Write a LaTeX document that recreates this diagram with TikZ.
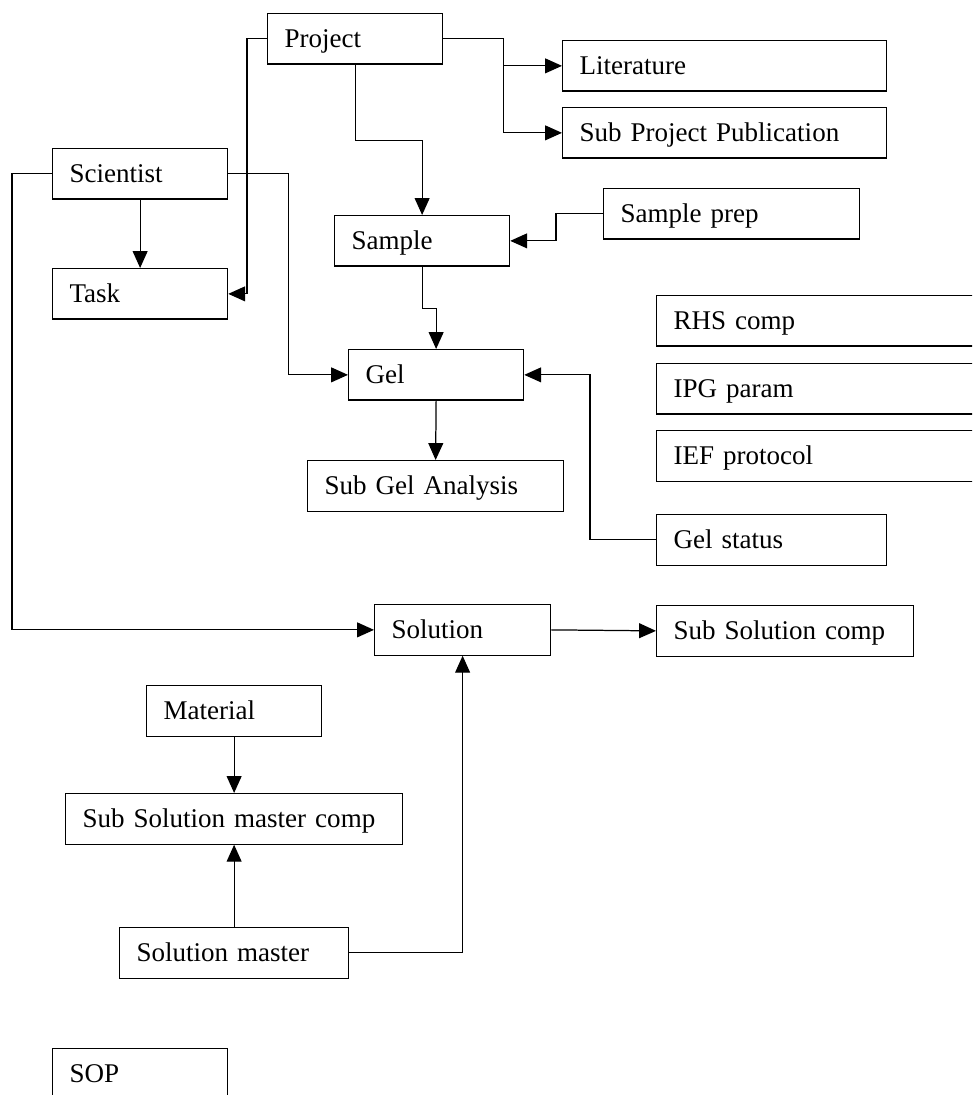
\documentclass[tikz,border=0pt]{standalone}
\usepackage{fontspec}
\setmainfont{Liberation Serif}
\usepackage{tikz}
\usetikzlibrary{arrows.meta,calc}

\begin{document}
\begin{tikzpicture}[x=0.444pt, y=-0.444pt,
    ent/.style={
        draw,
        line width=0.55pt,
        anchor=north west,
        minimum height=50.5*0.444pt,
        inner xsep=7.5pt,
        inner ysep=0pt,
        text height=0.74em,
        text depth=0pt,
        align=left,
        font=\fontsize{12}{14}\selectfont
    },
    boxw/.style={
        minimum width=#1*0.444pt,
        text width=#1*0.444pt-15pt
    },
    link/.style={
        ->,
        >={Triangle[length=7.5pt,width=6.6pt]},
        line width=0.55pt
    }
]

\useasboundingbox (0,0) rectangle (972,1095);
\clip (0,0) rectangle (972,1095);

\node[ent, boxw=175] (project) at (267,13) {Project};
\node[ent, boxw=324] (lit) at (562,40) {Literature};
\node[ent, boxw=324] (pub) at (562,107) {Sub Project Publication};
\node[ent, boxw=175] (sci) at (52,148) {Scientist};
\node[ent, boxw=256] (sprep) at (603,188) {Sample prep};
\node[ent, boxw=175] (sample) at (334,215) {Sample};
\node[ent, boxw=175] (task) at (52,268) {Task};
\node[ent, boxw=175] (gel) at (348,349) {Gel};
\node[ent, boxw=256] (sga) at (307,460) {Sub Gel Analysis};
\node[ent, boxw=230] (gstat) at (656,514) {Gel status};
\node[ent, boxw=176] (sol) at (374,604) {Solution};
\node[ent, boxw=257] (ssc) at (656,605) {Sub Solution comp};
\node[ent, boxw=175] (mat) at (146,685) {Material};
\node[ent, boxw=337] (ssmc) at (65,793) {Sub Solution master comp};
\node[ent, boxw=229] (smaster) at (119,927) {Solution master};
\node[ent, boxw=175] (sop) at (52,1048) {SOP};

\foreach \nm/\y/\txt in {rhs/295/RHS comp,ipg/363/IPG param,ief/430/IEF protocol}{
    \node[ent, boxw=400] (\nm) at (656,\y) {\txt};
}

\draw[link] (project.west) -- ++(-20,0) |- (task.east);
\draw[link] (project.east) -- ++(60,0) |- (lit.west);
\draw[link] (project.east) -- ++(60,0) |- (pub.west);
\draw[link] (project.south) -- ++(0,76) -| (sample.north);
\draw[link] (sci.south) -- (task.north);
\draw[link] (sci.west) -- ++(-40,0) |- (sol.west);
\draw[link] (sci.east) -- ++(60,0) |- (gel.west);
\draw[link] (sprep.west) -- ++(-47,0) |- (sample.east);
\draw[link] (sample.south) -- ++(0,42) -| (gel.north);
\draw[link] (gel.south) -- (sga.north);
\draw[link] (gstat.west) -- ++(-66,0) |- (gel.east);
\draw[link] (sol.east) -- (ssc.west);
\draw[link] (mat.south) -- (ssmc.north);
\draw[link] (smaster.north) -- (ssmc.south);
\draw[link] (smaster.east) -| (sol.south);
\end{tikzpicture}
\end{document}
